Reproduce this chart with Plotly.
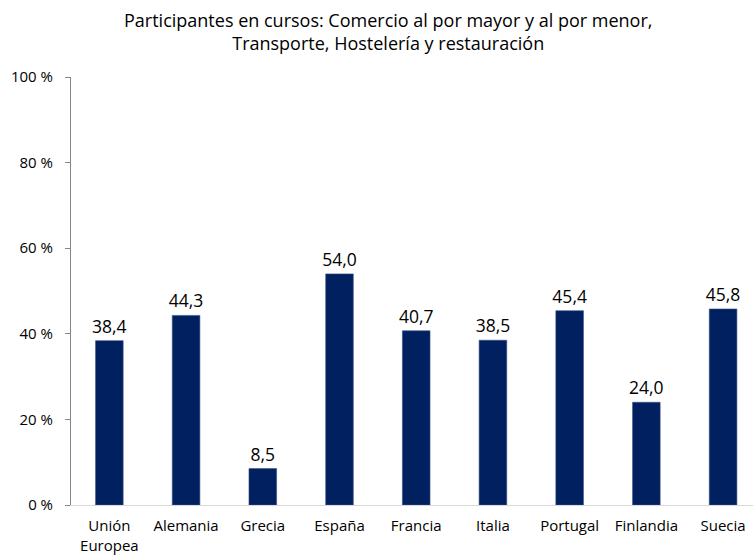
import plotly.graph_objects as go

# datos
paises = ["Unión<br>Europea", "Alemania", "Grecia", "España", "Francia",
          "Italia", "Portugal", "Finlandia", "Suecia"]
valores = [38.4, 44.3, 8.5, 54.0, 40.7, 38.5, 45.4, 24.0, 45.8]
ticks_y = [0, 20, 40, 60, 80, 100]
ticks_y_txt = ["0 %", "20 %", "40 %", "60 %", "80 %", "100 %"]
titulo = ("Participantes en cursos: Comercio al por mayor y al por menor,<br>"
          "Transporte, Hostelería y restauración")

FONT = "Open Sans, Liberation Sans, sans-serif"

fig = go.Figure(go.Bar(
    x=list(range(len(paises))),
    y=valores,
    width=0.36,
    marker=dict(color="#002060", line=dict(color="#3a4f86", width=0.6)),
    text=[f"{v:.1f}".replace(".", ",") for v in valores],
    textposition="outside",
    constraintext="none",
    textfont=dict(size=17.5, color="#000000", family=FONT),
    cliponaxis=False,
))

# título como anotación para fijar bien su posición
fig.add_annotation(
    text=titulo,
    xref="paper", yref="paper",
    x=(388 - 71) / 682, y=1 + (77 - 31.5) / 428,
    xanchor="center", yanchor="middle",
    showarrow=False,
    font=dict(size=18, family=FONT, color="#000000"),
)

fig.update_layout(
    width=753,
    height=557,
    plot_bgcolor="white",
    paper_bgcolor="white",
    showlegend=False,
    font=dict(family=FONT, color="#000000"),
    xaxis=dict(
        tickmode="array",
        tickvals=list(range(len(paises))),
        ticktext=paises,
        range=[-0.5, 8.39],
        showline=True, linecolor="#d9d9d9", linewidth=1,
        ticks="", showgrid=False, zeroline=False,
        ticklabelstandoff=7,
        tickfont=dict(size=15, family=FONT, color="#000000"),
    ),
    yaxis=dict(
        range=[0, 100],
        tickmode="array",
        tickvals=ticks_y,
        ticktext=ticks_y_txt,
        showline=True, linecolor="#868686", linewidth=1,
        ticks="outside", ticklen=5, tickcolor="#868686",
        showgrid=False, zeroline=False,
        ticklabelstandoff=9,
        tickfont=dict(size=15, family=FONT, color="#000000"),
    ),
    margin=dict(l=71, r=0, t=77, b=52),
)

fig.write_html("out.html", config={"displayModeBar": False},
               post_script="document.body.style.margin='0';")
